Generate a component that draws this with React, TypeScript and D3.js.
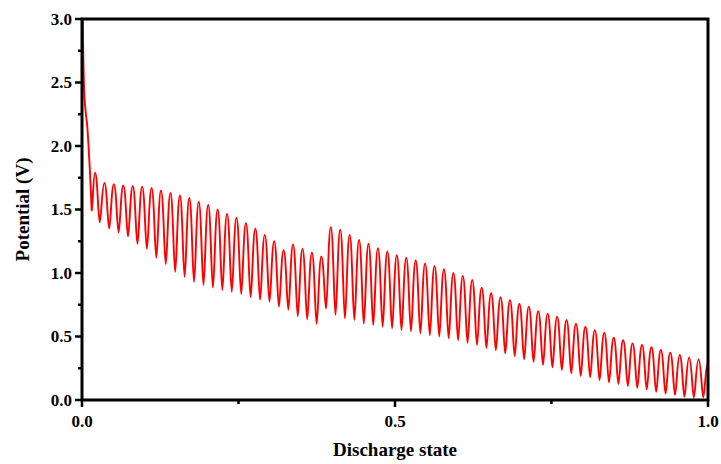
import React from 'react';
import * as d3 from 'd3';

// ---- data ----
const firstPeakState = 0.0208;
const pulseStep = 0.015065;
const troughFraction = 0.5;

const initialState = [0.0012, 0.002, 0.0032, 0.0056, 0.0085, 0.0102, 0.0128, 0.0155];
const initialPotential = [3.0, 2.72, 2.47, 2.28, 2.15, 2.02, 1.79, 1.49];

const peakPotential = [
  1.79, 1.71, 1.7, 1.69, 1.685, 1.68, 1.67, 1.65, 1.63, 1.61, 1.59, 1.56, 1.535,
  1.5, 1.465, 1.435, 1.395, 1.35, 1.3, 1.25, 1.18, 1.225, 1.19, 1.16, 1.13,
  1.36, 1.34, 1.3, 1.26, 1.23, 1.195, 1.17, 1.14, 1.12, 1.1, 1.076, 1.055, 1.03,
  1.0, 0.976, 0.945, 0.885, 0.843, 0.81, 0.785, 0.758, 0.735, 0.7, 0.68, 0.656,
  0.63, 0.6, 0.577, 0.55, 0.53, 0.49, 0.47, 0.446, 0.433, 0.415, 0.394, 0.373,
  0.354, 0.336, 0.32, 0.3,
];

const troughPotential = [
  1.4, 1.35, 1.32, 1.29, 1.23, 1.19, 1.12, 1.07, 1.01, 0.97, 0.93, 0.905, 0.885,
  0.866, 0.853, 0.835, 0.81, 0.79, 0.774, 0.735, 0.71, 0.66, 0.635, 0.6, 0.72,
  0.67, 0.643, 0.63, 0.6, 0.59, 0.577, 0.565, 0.55, 0.54, 0.525, 0.51, 0.5,
  0.486, 0.47, 0.45, 0.433, 0.41, 0.392, 0.367, 0.345, 0.32, 0.3, 0.276, 0.257,
  0.236, 0.21, 0.19, 0.18, 0.157, 0.139, 0.126, 0.11, 0.097, 0.084, 0.065, 0.05,
  0.04, 0.026, 0.02, 0.02,
];

const xMajorTicks = [0, 0.5, 1.0];
const xMinorTicks = [0.25, 0.75];
const yMajorTicks = [0, 0.5, 1.0, 1.5, 2.0, 2.5, 3.0];
const yMinorTicks = [0.25, 0.75, 1.25, 1.75, 2.25, 2.75];

const xTitle = 'Discharge state';
const yTitle = 'Potential (V)';

// ---- layout ----
const W = 721;
const H = 464;
const left = 82;
const right = 708;
const top = 19;
const bottom = 400;
const FONT = '"Liberation Serif", "Times New Roman", serif';
const peakRound = 0.5;
const troughRound = 0.3;

export default function App() {
  const x = d3.scaleLinear().domain([0, 1]).range([left, right]);
  const y = d3.scaleLinear().domain([0, 3]).range([bottom, top]);

  const initPts: [number, number][] = initialState.map((s, i) => [s, initialPotential[i]]);
  const initLine = d3
    .line<[number, number]>()
    .x((d) => x(d[0]))
    .y((d) => y(d[1]))
    .curve(d3.curveMonotoneX);

  const p = d3.path();
  const last = initPts[initPts.length - 1];
  let cx = x(last[0]);
  let cy = y(last[1]);
  p.moveTo(cx, cy);
  peakPotential.forEach((v, i) => {
    const px = x(firstPeakState + i * pulseStep);
    const py = y(v);
    const dx1 = px - cx;
    p.bezierCurveTo(cx + troughRound * dx1, cy, px - peakRound * dx1, py, px, py);
    cx = px;
    cy = py;
    if (i < troughPotential.length) {
      const tx = x(firstPeakState + (i + troughFraction) * pulseStep);
      const ty = y(troughPotential[i]);
      const dx2 = tx - cx;
      p.bezierCurveTo(cx + peakRound * dx2, cy, tx - troughRound * dx2, ty, tx, ty);
      cx = tx;
      cy = ty;
    }
  });

  const fmt = d3.format('.1f');
  const axisW = 3;

  return (
    <svg
      width={W}
      height={H}
      style={{ position: 'absolute', left: 0, top: 0, display: 'block', background: '#fff' }}
    >
      <defs>
        <clipPath id="plot">
          <rect x={left} y={top - 1} width={right - left} height={bottom - top + 1} />
        </clipPath>
      </defs>
      <g clipPath="url(#plot)" fill="none" stroke="#ff0000" strokeWidth={1.9} strokeLinejoin="round">
        <path d={initLine(initPts) || ''} />
        <path d={p.toString()} />
      </g>
      <rect
        x={left}
        y={top}
        width={right - left}
        height={bottom - top}
        fill="none"
        stroke="#000"
        strokeWidth={axisW}
      />
      {yMajorTicks.map((t) => (
        <g key={'ym' + t}>
          <line x1={left - 7} x2={left} y1={y(t)} y2={y(t)} stroke="#000" strokeWidth={2.5} />
          <text
            x={left - 10}
            y={y(t)}
            dy="0.35em"
            textAnchor="end"
            fontFamily={FONT}
            fontWeight="bold"
            fontSize={17}
          >
            {fmt(t)}
          </text>
        </g>
      ))}
      {yMinorTicks.map((t) => (
        <line key={'yn' + t} x1={left - 4} x2={left} y1={y(t)} y2={y(t)} stroke="#000" strokeWidth={2.5} />
      ))}
      {xMajorTicks.map((t) => (
        <g key={'xm' + t}>
          <line x1={x(t)} x2={x(t)} y1={bottom} y2={bottom + 7} stroke="#000" strokeWidth={2.5} />
          <text
            x={x(t)}
            y={bottom + 27}
            textAnchor="middle"
            fontFamily={FONT}
            fontWeight="bold"
            fontSize={17}
          >
            {fmt(t)}
          </text>
        </g>
      ))}
      {xMinorTicks.map((t) => (
        <line key={'xn' + t} x1={x(t)} x2={x(t)} y1={bottom} y2={bottom + 4} stroke="#000" strokeWidth={2.5} />
      ))}
      <text
        x={(left + right) / 2}
        y={456}
        textAnchor="middle"
        fontFamily={FONT}
        fontWeight="bold"
        fontSize={19}
      >
        {xTitle}
      </text>
      <text
        transform={`translate(29, ${(top + bottom) / 2}) rotate(-90)`}
        textAnchor="middle"
        fontFamily={FONT}
        fontWeight="bold"
        fontSize={19}
      >
        {yTitle}
      </text>
    </svg>
  );
}
